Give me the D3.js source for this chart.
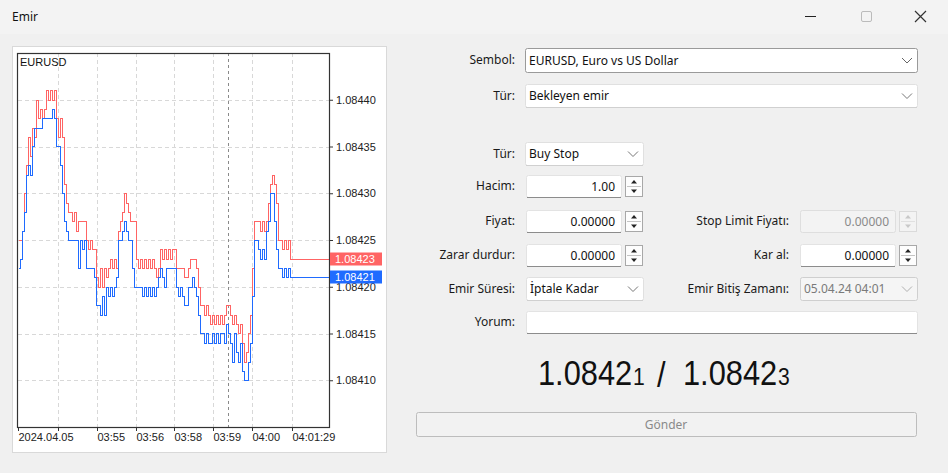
<!DOCTYPE html>
<html>
<head>
<meta charset="utf-8">
<script src="https://cdn.jsdelivr.net/npm/d3@7"></script>
<style>
html, body { margin: 0; padding: 0; background: #f0f0f0; }
svg { display: block; font-family: "Noto Sans", sans-serif; }
</style>
</head>
<body>
<svg id="win" width="948" height="473"></svg>
<script>
// tick data, in points above basePrice
const symbol = "EURUSD";
const basePrice = 1.08400;
const point = 0.00001;
const bidPts = [
  22,23,26,28,32,33,32,35,37,37, 37,37,38,38,38,38,38,39,38,35,
  35,33,30,27,26,25,25,25,25,25, 22,25,24,25,22,22,22,22,21,18,
  18,17,19,17,20,19,20,19,20,21, 25,25,26,27,26,25,25,22,20,20,
  20,20,19,20,19,20,19,20,19,20, 21,22,21,20,22,22,22,22,22,20,
  19,20,19,18,18,20,20,21,20,19, 17,15,15,14,15,14,14,15,14,15,
  14,15,15,14,16,15,14,12,15,13, 12,14,11,10,10,12,14,19,25,25,
  24,23,24,23,26,27,30,30,27,24, 22,22,21,22,21,22,21,21
];
const askPts = [
  25,25,26,30,33,36,34,37,36,40, 38,39,38,39,41,40,41,40,41,38,
  36,38,36,31,29,28,28,27,28,26, 27,27,27,27,25,24,25,24,24,21,
  20,22,20,22,21,22,23,22,23,22, 26,27,28,30,29,28,27,27,27,23,
  22,23,22,23,22,23,22,23,22,21, 22,24,23,24,23,24,23,24,24,22,
  22,22,22,21,21,22,23,23,23,22, 20,18,18,17,18,17,16,17,16,17,
  16,17,16,17,18,18,17,16,17,16, 15,16,14,12,13,15,17,22,27,27,
  27,26,27,26,27,29,31,32,31,29, 25,25,24,25,24,25,23,23
];
const priceTicks = [1.08410, 1.08415, 1.08420, 1.08425, 1.08430, 1.08435, 1.08440];
const timeTickIdx = [0, 20, 39.5, 59, 78, 97.5, 117, 137];
const timeTickLabels = ["2024.04.05", "", "03:55", "03:56", "03:58", "03:59", "04:00", "04:01:29"];
const separatorIdx = 105;

const bidColor = "#1f6bff";
const askColor = "#ff6464";

const svg = d3.select("#win");
const W = 948, H = 473;

svg.append("rect").attr("width", W).attr("height", H).attr("fill", "#f0f0f0");
svg.append("rect").attr("width", W).attr("height", 34).attr("fill", "#f3f3f3");

// title bar
svg.append("text").attr("x", 12).attr("y", 21).attr("font-size", 12).attr("fill", "#111").text("Emir");
svg.append("line").attr("x1", 805).attr("x2", 816).attr("y1", 16.5).attr("y2", 16.5).attr("stroke", "#222");
svg.append("rect").attr("x", 861.5).attr("y", 11.5).attr("width", 10).attr("height", 10).attr("rx", 1.5)
  .attr("fill", "none").attr("stroke", "#bbb");
svg.append("path").attr("d", "M915,11L926,22M926,11L915,22").attr("stroke", "#333").attr("stroke-width", 1.2);

// ---------------- CHART ----------------
svg.append("rect").attr("x", 12.5).attr("y", 46.5).attr("width", 374).attr("height", 406)
  .attr("fill", "#fff").attr("stroke", "#d9d9d9");

const plot = {left: 18, right: 329, top: 53, bottom: 427};
const lastIdx = bidPts.length - 1;

const x = d3.scaleLinear().domain([0, 155.5]).range([plot.left, plot.right]);
const y = d3.scaleLinear().domain([1.08405, 1.08445]).range([plot.bottom, plot.top]);

const chart = svg.append("g");

// grid
chart.selectAll(".hgrid").data(priceTicks).join("line")
  .attr("x1", plot.left).attr("x2", plot.right)
  .attr("y1", d => Math.round(y(d)) + 0.5).attr("y2", d => Math.round(y(d)) + 0.5)
  .attr("stroke", "#d8d8d8").attr("stroke-dasharray", "4,3");
chart.selectAll(".vgrid").data(timeTickIdx.slice(1)).join("line")
  .attr("x1", d => Math.round(x(d)) + 0.5).attr("x2", d => Math.round(x(d)) + 0.5)
  .attr("y1", plot.top).attr("y2", plot.bottom)
  .attr("stroke", "#d8d8d8").attr("stroke-dasharray", "4,3");
chart.append("line")
  .attr("x1", Math.round(x(separatorIdx)) + 0.5).attr("x2", Math.round(x(separatorIdx)) + 0.5)
  .attr("y1", plot.top).attr("y2", plot.bottom)
  .attr("stroke", "#8a8a8a").attr("stroke-dasharray", "3,3");

function toSeries(pts) {
  const s = pts.map((v, i) => [i, basePrice + v * point]);
  s.push([x.domain()[1], basePrice + pts[lastIdx] * point]);
  return s;
}

const line = d3.line()
  .x(d => Math.round(x(d[0])) + 0.5)
  .y(d => Math.round(y(d[1])) + 0.5)
  .curve(d3.curveStepAfter);

chart.append("path").datum(toSeries(askPts)).attr("d", line)
  .attr("fill", "none").attr("stroke", askColor).attr("stroke-width", 1).attr("shape-rendering", "crispEdges");
chart.append("path").datum(toSeries(bidPts)).attr("d", line)
  .attr("fill", "none").attr("stroke", bidColor).attr("stroke-width", 1).attr("shape-rendering", "crispEdges");

// frame
chart.append("rect").attr("x", plot.left - 0.5).attr("y", plot.top + 0.5)
  .attr("width", plot.right - plot.left + 1).attr("height", plot.bottom - plot.top)
  .attr("fill", "none").attr("stroke", "#333").attr("stroke-width", 1.2);

chart.append("text").attr("x", 20).attr("y", 66).attr("font-family", "Liberation Sans, Arial, sans-serif")
  .attr("font-size", 11).attr("fill", "#111").text(symbol);

// axes
const yAxis = chart.append("g").attr("transform", `translate(${plot.right},0)`)
  .call(d3.axisRight(y).tickValues(priceTicks).tickSize(4).tickPadding(3).tickFormat(d3.format(".5f")));
const xAxis = chart.append("g").attr("transform", `translate(0,${plot.bottom})`)
  .call(d3.axisBottom(x).tickValues(timeTickIdx).tickSize(4).tickPadding(2)
    .tickFormat((d, i) => timeTickLabels[i]));
[yAxis, xAxis].forEach(a => {
  a.select(".domain").remove();
  a.selectAll("line").attr("stroke", "#333");
  a.selectAll("text").attr("font-family", "Liberation Sans, Arial, sans-serif")
    .attr("font-size", 11).attr("fill", "#222");
});
xAxis.selectAll("text").attr("text-anchor", "start").attr("dx", 0);

// current price labels (they sit over the axis, as in the terminal)
[[askPts[lastIdx], askColor], [bidPts[lastIdx], bidColor]].forEach(([v, c]) => {
  const p = basePrice + v * point;
  const g = chart.append("g").attr("transform", `translate(330,${Math.round(y(p))})`);
  g.append("rect").attr("x", 0).attr("y", -6.5).attr("width", 52).attr("height", 13).attr("fill", c);
  g.append("text").attr("x", 5).attr("y", 4).attr("font-family", "Liberation Sans, Arial, sans-serif")
    .attr("font-size", 11).attr("fill", "#fff").text(d3.format(".5f")(p));
});

// ---------------- FORM ----------------
const form = svg.append("g").attr("font-size", 12);

function label(xr, yc, t) {
  form.append("text").attr("x", xr).attr("y", yc + 4).attr("text-anchor", "end").attr("fill", "#1a1a1a").text(t);
}
function chevron(cx, cy, col) {
  form.append("path").attr("d", `M${cx - 5},${cy - 2.5}L${cx},${cy + 2.5}L${cx + 5},${cy - 2.5}`)
    .attr("fill", "none").attr("stroke", col || "#777").attr("stroke-width", 1);
}
function box(x0, y0, x1, y1, opts) {
  opts = opts || {};
  form.append("rect").attr("x", x0 + 0.5).attr("y", y0 + 0.5).attr("width", x1 - x0 - 1).attr("height", y1 - y0 - 1)
    .attr("rx", 2).attr("fill", opts.fill || "#fff").attr("stroke", opts.stroke || "#e3e3e3");
  if (opts.underline) {
    form.append("line").attr("x1", x0 + 1).attr("x2", x1 - 1).attr("y1", y1 - 0.5).attr("y2", y1 - 0.5)
      .attr("stroke", opts.underline);
  }
}
function select(x0, y0, x1, y1, t, opts) {
  opts = opts || {};
  box(x0, y0, x1, y1, opts);
  form.append("text").attr("x", x0 + 4).attr("y", (y0 + y1) / 2 + 4).attr("fill", opts.color || "#111").text(t);
  chevron(x1 - 11, (y0 + y1) / 2, opts.chev);
}
function spinner(x0, y0, x1, y1, disabled) {
  const c = disabled ? "#c8c8c8" : "#222";
  form.append("rect").attr("x", x0 + 0.5).attr("y", y0 + 0.5).attr("width", x1 - x0 - 1).attr("height", y1 - y0 - 1)
    .attr("fill", disabled ? "#f3f3f3" : "#fdfdfd").attr("stroke", disabled ? "#dadada" : "#a8a8a8");
  const ym = (y0 + y1) / 2, xm = (x0 + x1) / 2;
  form.append("line").attr("x1", x0 + 2).attr("x2", x1 - 2).attr("y1", ym).attr("y2", ym).attr("stroke", disabled ? "#e0e0e0" : "#c4c4c4");
  form.append("path").attr("d", `M${xm - 3},${ym - 3}L${xm + 3},${ym - 3}L${xm},${ym - 6.5}Z`).attr("fill", c);
  form.append("path").attr("d", `M${xm - 3},${ym + 3}L${xm + 3},${ym + 3}L${xm},${ym + 6.5}Z`).attr("fill", c);
}
function numInput(x0, y0, x1, y1, t, disabled) {
  box(x0, y0, x1, y1, disabled ? {fill: "#f3f3f3", stroke: "#dedede"} : {underline: "#8c8c8c"});
  form.append("text").attr("x", x1 - 7).attr("y", (y0 + y1) / 2 + 4).attr("text-anchor", "end")
    .attr("fill", disabled ? "#8a8a8a" : "#111").text(t);
}

const LX = 515, RX = 789;

label(LX, 60, "Sembol:");
select(525, 48, 918, 73, "EURUSD, Euro vs US Dollar", {stroke: "#9a9a9a", chev: "#666"});

label(LX, 96, "Tür:");
select(525, 84, 918, 108, "Bekleyen emir", {stroke: "#e0e0e0", underline: "#d0d0d0"});

label(LX, 154, "Tür:");
select(525, 142, 644, 166, "Buy Stop", {stroke: "#e0e0e0", underline: "#d0d0d0"});

label(LX, 186, "Hacim:");
numInput(526, 175, 622, 198, "1.00");
spinner(625, 176, 643, 197);

label(LX, 221, "Fiyat:");
numInput(526, 210, 622, 233, "0.00000");
spinner(625, 211, 643, 232);

label(RX, 221, "Stop Limit Fiyatı:");
numInput(800, 210, 896, 233, "0.00000", true);
spinner(899, 211, 917, 232, true);

label(LX, 255, "Zarar durdur:");
numInput(526, 244, 622, 267, "0.00000");
spinner(625, 245, 643, 266);

label(RX, 255, "Kar al:");
numInput(800, 244, 896, 267, "0.00000");
spinner(899, 245, 917, 266);

label(LX, 289, "Emir Süresi:");
select(526, 277, 644, 301, "İptale Kadar", {stroke: "#e0e0e0", underline: "#d0d0d0"});

label(RX, 289, "Emir Bitiş Zamanı:");
select(800, 277, 918, 301, "05.04.24 04:01", {fill: "#f5f5f5", stroke: "#cfcfcf", color: "#7a7a7a", chev: "#b0b0b0"});

label(LX, 322, "Yorum:");
box(526, 311, 918, 334, {underline: "#8c8c8c"});

// bid / ask quote
const fmtBig = v => d3.format(".5f")(v);
function quote(x0, v) {
  const s = fmtBig(basePrice + v * point);
  const t = form.append("text").attr("transform", `translate(${x0},385) scale(0.88,1)`)
    .attr("font-family", "Liberation Sans, Arial, sans-serif").attr("fill", "#111");
  t.append("tspan").attr("font-size", 35).text(s.slice(0, -1));
  t.append("tspan").attr("font-size", 24).attr("dx", 1).text(s.slice(-1));
}
quote(538, bidPts[lastIdx]);
form.append("text").attr("transform", "translate(657,387) scale(0.88,1)")
  .attr("font-family", "Liberation Sans, Arial, sans-serif").attr("font-size", 35).attr("fill", "#111").text("/");
quote(683, askPts[lastIdx]);

// send button
form.append("rect").attr("x", 416.5).attr("y", 412.5).attr("width", 500).attr("height", 24).attr("rx", 2)
  .attr("fill", "#f2f2f2").attr("stroke", "#bdbdbd");
form.append("text").attr("x", 666).attr("y", 429).attr("text-anchor", "middle").attr("fill", "#8a8a8a").text("Gönder");
</script>
</body>
</html>
